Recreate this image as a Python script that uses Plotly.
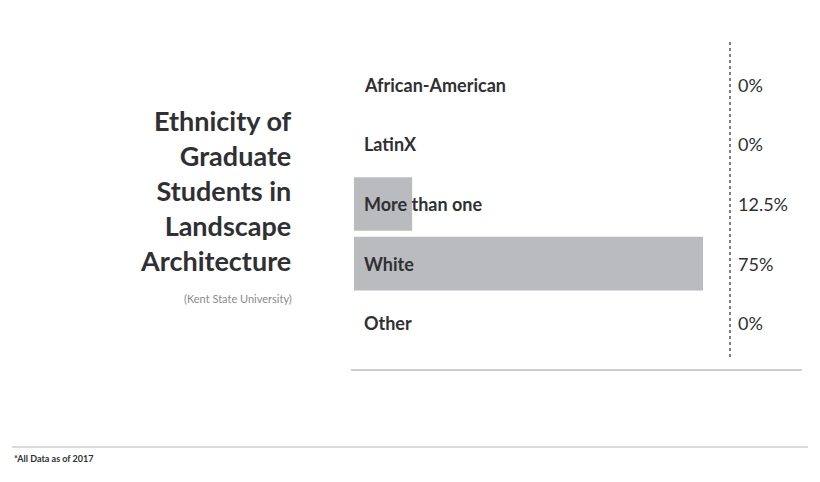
import plotly.graph_objects as go

groups = ["African-American", "LatinX", "More than one", "White", "Other"]
shares = [0, 0, 12.5, 75, 0]
share_labels = ["0%", "0%", "12.5%", "75%", "0%"]

W, H = 820, 482
# page body has an 8px margin, so shift targets back by 8px
px = lambda x: (x - 8) / W
py = lambda y: 1 - (y - 8) / H

fig = go.Figure(go.Bar(
    x=shares, y=groups, orientation="h", width=0.9,
    marker=dict(color="#babbbe", line=dict(width=0)),
    hoverinfo="skip",
))

for g, lab in zip(groups, share_labels):
    fig.add_annotation(x=0, y=g, xref="x", yref="y", text="<b>" + g + "</b>",
                       xanchor="left", xshift=8, showarrow=False,
                       font=dict(family="Lato", size=18, color="#2f3033"))
    fig.add_annotation(x=px(736), y=g, xref="paper", yref="y", text=lab,
                       xanchor="left", showarrow=False,
                       font=dict(family="Lato", size=18, color="#2f3033"))

fig.add_annotation(x=px(294), y=py(190), xref="paper", yref="paper",
                   text="<b>Ethnicity of<br>Graduate<br>Students in<br>Landscape<br>Architecture</b>",
                   xanchor="right", yanchor="middle", align="right", showarrow=False,
                   font=dict(family="Lato", size=27, color="#2f3033"))
fig.add_annotation(x=px(294), y=py(298), xref="paper", yref="paper",
                   text="(Kent State University)", xanchor="right", showarrow=False,
                   font=dict(family="Lato", size=11, color="#8a8b8e"))
fig.add_annotation(x=px(12), y=py(466), xref="paper", yref="paper",
                   text="<b>*All Data as of 2017</b>", xanchor="left", showarrow=False,
                   font=dict(family="Lato", size=9, color="#2f3033"))

fig.add_shape(type="line", xref="paper", yref="paper", x0=px(730), x1=px(730),
              y0=py(42), y1=py(358), line=dict(color="#555", width=1.5, dash="dot"))
fig.add_shape(type="line", xref="paper", yref="paper", x0=px(351), x1=px(802),
              y0=py(370), y1=py(370), line=dict(color="#9a9b9e", width=1.2))
fig.add_shape(type="line", xref="paper", yref="paper", x0=px(12), x1=px(808),
              y0=py(447), y1=py(447), line=dict(color="#b5b6b8", width=1))

fig.update_layout(
    width=W, height=H, margin=dict(l=0, r=0, t=0, b=0),
    paper_bgcolor="white", plot_bgcolor="white", showlegend=False,
    xaxis=dict(domain=[px(354), px(703)], range=[0, 75], visible=False),
    yaxis=dict(domain=[py(353), py(55)], autorange="reversed", visible=False,
               categoryorder="array", categoryarray=groups),
)

fig.write_html("out.html")
